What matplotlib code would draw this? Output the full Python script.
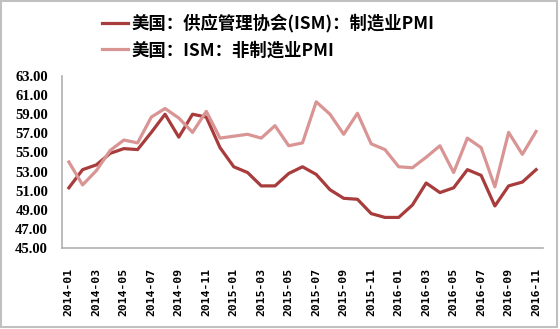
import matplotlib
matplotlib.use("Agg")
import matplotlib.pyplot as plt
from matplotlib.patches import Rectangle

# ---------------- DATA ----------------
months = [f"{y}-{m:02d}" for y in (2014, 2015, 2016) for m in range(1, 13)][:35]

mfg_pmi = [51.3, 53.2, 53.7, 54.9, 55.4, 55.3, 57.1, 59.0, 56.6, 59.0, 58.7, 55.5,
           53.5, 52.9, 51.5, 51.5, 52.8, 53.5, 52.7, 51.1, 50.2, 50.1, 48.6, 48.2,
           48.2, 49.5, 51.8, 50.8, 51.3, 53.2, 52.6, 49.4, 51.5, 51.9, 53.2]

nonmfg_pmi = [54.0, 51.6, 53.1, 55.2, 56.3, 56.0, 58.7, 59.6, 58.6, 57.1, 59.3, 56.5,
              56.7, 56.9, 56.5, 57.8, 55.7, 56.0, 60.3, 59.0, 56.9, 59.1, 55.9, 55.3,
              53.5, 53.4, 54.5, 55.7, 52.9, 56.5, 55.5, 51.4, 57.1, 54.8, 57.2]

labels = ["美国：供应管理协会(ISM)：制造业PMI", "美国：ISM：非制造业PMI"]
yticks = [45, 47, 49, 51, 53, 55, 57, 59, 61, 63]

# ---------------- PLOT ----------------
plt.rcParams["font.family"] = ["Noto Sans CJK SC", "DejaVu Sans"]

fig = plt.figure(figsize=(5.6, 3.29), dpi=100)
ax = fig.add_axes([0.1107, 0.2462, 0.8589, 0.5228])

x = list(range(len(months)))
l1, = ax.plot(x, mfg_pmi, color="#A83C3C", lw=2.3, label=labels[0])
l2, = ax.plot(x, nonmfg_pmi, color="#D99494", lw=2.3, label=labels[1])

ax.set_xlim(-0.5, len(months) - 0.5)
ax.set_ylim(45, 63)
ax.set_yticks(yticks)
ax.set_yticklabels([f"{v:.2f}" for v in yticks],
                   family="Liberation Serif", fontweight="bold", fontsize=10.5)
ax.set_xticks(x[::2])
ax.set_xticklabels(months[::2], rotation=90, family="DejaVu Sans Mono",
                   fontweight="bold", fontsize=8.2)
ax.tick_params(length=0, pad=10)
ax.tick_params(axis="x", pad=14)

for s in ("top", "right"):
    ax.spines[s].set_visible(False)
for s in ("left", "bottom"):
    ax.spines[s].set_color("#B0B0B0")
    ax.spines[s].set_linewidth(1.2)

leg = fig.legend(handles=[l1, l2], loc="upper left",
                 bbox_to_anchor=(0.155, 1.005), frameon=False,
                 prop={"weight": "bold", "size": 12.5},
                 handlelength=1.5, handletextpad=0.2, labelspacing=0.5)

# outer frame
fig.patches.append(Rectangle((0.002, 0.006), 0.992, 0.99, transform=fig.transFigure,
                             fill=False, edgecolor="#C0C0C0", lw=1.5))

fig.savefig("out.png", dpi=100)
